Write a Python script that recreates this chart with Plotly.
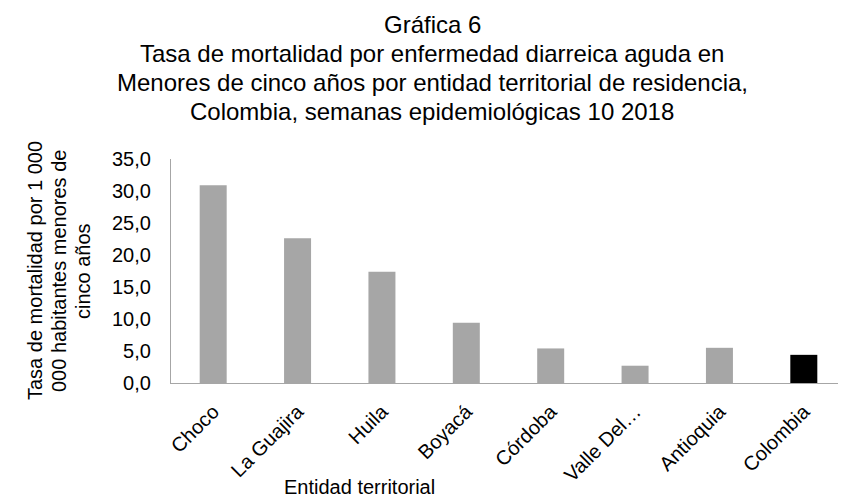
import plotly.graph_objects as go

categories = ["Choco", "La Guajira", "Huila", "Boyacá", "Córdoba", "Valle Del…", "Antioquia", "Colombia"]
values = [30.9, 22.6, 17.4, 9.4, 5.4, 2.7, 5.5, 4.4]
colors = ["#A6A6A6"] * 7 + ["#000000"]
y_ticks = [0, 5, 10, 15, 20, 25, 30, 35]

title_lines = [
    "Gráfica 6",
    "Tasa de mortalidad por enfermedad diarreica aguda en",
    "Menores de cinco años por entidad territorial de residencia,",
    "Colombia, semanas epidemiológicas 10 2018",
]
ytitle_lines = ["Tasa de mortalidad por 1 000", "000 habitantes menores de", "cinco años"]
xtitle = "Entidad territorial"

FONT = "Liberation Sans, Arial, sans-serif"

# figure geometry (page body has an 8px margin)
W, H = 838, 490
L, R, T, B = 163, 0, 151, 115
PW, PH = W - L - R, H - T - B


def px(xf):
    return (xf - L) / PW


def py(yf):
    return (H - B - yf) / PH


fig = go.Figure(go.Bar(
    x=categories, y=values,
    marker=dict(color=colors, line=dict(width=0)),
))

fig.update_layout(
    width=W, height=H,
    margin=dict(l=L, r=R, t=T, b=B, autoexpand=False),
    paper_bgcolor="white", plot_bgcolor="white",
    bargap=0.68,
    separators=",.",
    showlegend=False,
    font=dict(family=FONT, size=20, color="#000000"),
)

fig.update_xaxes(
    showline=True, linecolor="#A6A6A6", linewidth=1.3,
    tickangle=-45, ticks="", showgrid=False, automargin=False,
    tickfont=dict(size=20), ticklabelstandoff=8,
)
fig.update_yaxes(
    range=[0, 35], tickvals=y_ticks, tickformat=".1f",
    showline=True, linecolor="#A6A6A6", linewidth=1.3,
    showgrid=False, ticks="", ticklabelstandoff=15, automargin=False,
    tickfont=dict(size=20), zeroline=False,
)

for i, t in enumerate(title_lines):
    fig.add_annotation(
        text=t, xref="paper", yref="paper",
        x=px(424), y=py(16.5 + 29 * i),
        showarrow=False, font=dict(size=24), xanchor="center", yanchor="middle",
    )

for i, t in enumerate(ytitle_lines):
    fig.add_annotation(
        text=t, xref="paper", yref="paper",
        x=px(27 + 24 * i), y=0.5,
        showarrow=False, textangle=-90, font=dict(size=20),
        xanchor="center", yanchor="middle",
    )

fig.add_annotation(
    text=xtitle, xref="paper", yref="paper",
    x=px(274), y=py(479),
    showarrow=False, font=dict(size=20), xanchor="left", yanchor="middle",
)

fig.write_html("out.html")
